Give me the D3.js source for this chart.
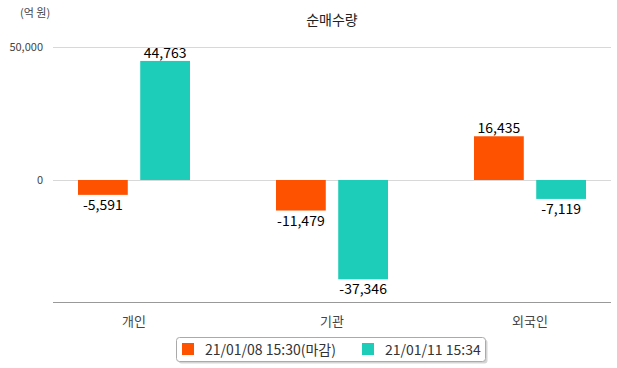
<!DOCTYPE html>
<html><head><meta charset="utf-8">
<script src="https://cdn.jsdelivr.net/npm/d3@7"></script>
<style>body{margin:0;background:#fff;}svg{display:block;font-family:"Noto Sans CJK KR","Noto Sans",sans-serif;}</style>
</head><body><svg id="c" width="617" height="368"></svg>
<script>
const categories = ["개인","기관","외국인"];
const seriesNames = ["21/01/08 15:30(마감)","21/01/11 15:34"];
const series1 = [-5591,-11479,16435];
const series2 = [44763,-37346,-7119];
const yTicks = [0,50000];
const colors = ["#ff5200","#1ecdb9"];

const fmt = d3.formatLocale({decimal:".",thousands:",",grouping:[3],currency:["",""],minus:"-"}).format(",");
const svg = d3.select("#c");
const plotL = 53, plotR = 611;
const y = d3.scaleLinear().domain([-46250,50000]).range([303,47]);
const x = d3.scaleBand().domain(categories).range([35,629]);
const inner = d3.scaleBand().domain([0,1]).range([x.bandwidth()/2-56, x.bandwidth()/2+56]).paddingInner(0.2);

svg.append("text").attr("x",332).attr("y",25).attr("text-anchor","middle").attr("font-size",14).attr("fill","#222").text("순매수량");
svg.append("text").attr("x",20).attr("y",17).attr("font-size",11).attr("fill","#444").text("(억 원)");

const g = svg.append("g");
yTicks.forEach(t=>{
  g.append("line").attr("x1",plotL).attr("x2",plotR).attr("y1",Math.round(y(t))+0.5).attr("y2",Math.round(y(t))+0.5).attr("stroke","#d8d8d8");
  g.append("text").attr("x",43).attr("y",y(t)+4).attr("text-anchor","end").attr("font-size",11).attr("fill","#444").text(fmt(t));
});
g.append("line").attr("x1",plotL).attr("x2",plotR).attr("y1",302.5).attr("y2",302.5).attr("stroke","#999");

categories.forEach((c,i)=>{
  g.append("text").attr("x",x(c)+x.bandwidth()/2).attr("y",326).attr("text-anchor","middle").attr("font-size",13).attr("fill","#444").text(c);
});

[series1,series2].forEach((s,si)=>{
  s.forEach((v,i)=>{
    const bx = x(categories[i]) + inner(si);
    const y0 = y(0), y1 = y(v);
    g.append("rect").attr("x",bx).attr("width",inner.bandwidth()).attr("y",Math.min(y0,y1)).attr("height",Math.abs(y1-y0)).attr("fill",colors[si]);
    g.append("text").attr("x",bx+inner.bandwidth()/2).attr("y", v>=0 ? y1-3 : y1+15).attr("text-anchor","middle").attr("font-size",14).attr("fill","#000").text(fmt(v));
  });
});

// legend
const lg = svg.append("g");
lg.append("rect").attr("x",178.5).attr("y",339.5).attr("width",309).attr("height",24).attr("rx",3).attr("fill","#888").attr("opacity",0.35);
lg.append("rect").attr("x",176.5).attr("y",337.5).attr("width",309).attr("height",24).attr("rx",3).attr("fill","#fff").attr("stroke","#aaa");
const lx = [182,362];
seriesNames.forEach((n,i)=>{
  lg.append("rect").attr("x",lx[i]).attr("y",343).attr("width",12).attr("height",12).attr("fill",colors[i]);
  lg.append("text").attr("x",lx[i]+23).attr("y",355).attr("font-size",14).attr("fill","#333").text(n);
});
</script></body></html>
